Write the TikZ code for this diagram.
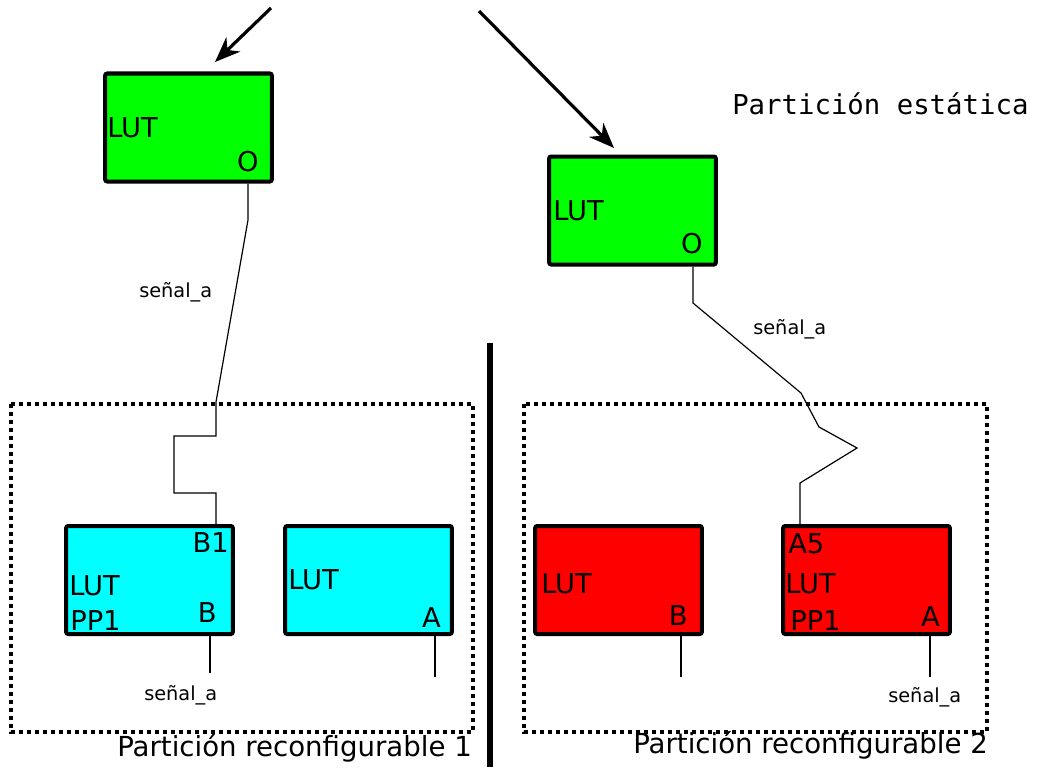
\documentclass[tikz,border=0pt]{standalone}
\usepackage{fontspec}
\setmainfont{DejaVu Sans}
\newfontfamily\monofont{DejaVu Sans Mono}
\usetikzlibrary{arrows.meta}

\tikzset{
  lutbox/.style={draw=black, line width=3pt, rounded corners=1.5pt,
    minimum width=125pt, minimum height=81pt, inner sep=0pt},
  pin/.style={inner sep=0pt, font=\fontsize{20.5}{24}\selectfont},
  sig/.style={inner sep=0pt, anchor=base west, font=\fontsize{14.5}{17}\selectfont},
  wire/.style={line width=0.9pt, black},
  region/.style={line width=3pt, dash pattern=on 3pt off 3pt},
  divider/.style={line width=4.5pt},
  feed/.style={line width=2.4pt, -{Stealth[length=19pt, width=15pt, inset=6pt]}},
  caption/.style={inner sep=0pt, anchor=base west, font=\fontsize{20.7}{24}\selectfont},
}
\definecolor{lutgreen}{RGB}{0,255,0}
\definecolor{lutcyan}{RGB}{0,255,255}
\definecolor{lutred}{RGB}{255,0,0}

\begin{document}
\begin{tikzpicture}[x=0.75pt, y=-0.75pt]
\useasboundingbox (0,0) rectangle (1037,767);

% reconfigurable partitions and the divider between them
\draw[region] (11,404) rectangle (473,732);
\draw[region] (524,404) rectangle (987,732);
\draw[divider] (490,343) -- (490,767);

% static-partition LUTs
\node[lutbox, fill=lutgreen] (g1) at (188.5,127.5) {};
\node[lutbox, fill=lutgreen] (g2) at (632.5,210.5) {};

% partition 1 LUTs
\node[lutbox, fill=lutcyan] (c1) at (149.5,580) {};
\node[lutbox, fill=lutcyan] (c2) at (368.5,580) {};

% partition 2 LUTs
\node[lutbox, fill=lutred] (r1) at (618.5,580) {};
\node[lutbox, fill=lutred] (r2) at (866.5,580) {};

% pin and name labels
\node[pin, anchor=base west] (g1lut) at (107,137) {LUT};
\node[pin, anchor=base east] (g1o) at (259,171) {O};
\node[pin, anchor=base west] (g2lut) at (553,220) {LUT};
\node[pin, anchor=base east] (g2o) at (703,253) {O};

\node[pin, anchor=base east] (c1b1) at (229,552) {B1};
\node[pin, anchor=base west] (c1lut) at (69,595) {LUT};
\node[pin, anchor=base west] (c1pp) at (70,630) {PP1};
\node[pin, anchor=base east] (c1b) at (217,622) {B};
\node[pin, anchor=base west] (c2lut) at (288,589) {LUT};
\node[pin, anchor=base east] (c2a) at (441,627) {A};

\node[pin, anchor=base west] (r1lut) at (541,593) {LUT};
\node[pin, anchor=base east] (r1b) at (688,625) {B};
\node[pin, anchor=base west] (r2a5) at (788,553) {A5};
\node[pin, anchor=base west] (r2lut) at (785,593) {LUT};
\node[pin, anchor=base west] (r2pp) at (790,630) {PP1};
\node[pin, anchor=base east] (r2a) at (940,626) {A};

% captions
\node[inner sep=0pt, anchor=base west, font=\monofont\fontsize{20.5}{24}\selectfont] (stat) at (732,114) {Partición estática};
\node[caption] (rp1) at (117,756) {Partición reconfigurable 1};
\node[caption] (rp2) at (633,753) {Partición reconfigurable 2};

% signal labels
\node[sig] (s1) at (139,297) {señal\_a};
\node[sig] (s2) at (753,334) {señal\_a};
\node[sig] (s3) at (144,700) {señal\_a};
\node[sig] (s4) at (888,702) {señal\_a};

% incoming arrows
\coordinate (inL) at (271,8);
\coordinate (tipL) at (215,62);
\coordinate (inR) at (479,11);
\coordinate (tipR) at (614,148);
\draw[feed] (inL) -- (tipL);
\draw[feed] (inR) -- (tipR);

% routing of señal_a
\draw[wire] (g1.south -| 248,0) -- (248,220) -- (216,402) -- (216,436)
  -- (174,436) -- (174,493) -- (216,493) -- (c1.north -| 216,0);
\draw[wire] (g2.south -| 693,0) -- (693,303) -- (801,393) -- (819,427)
  -- (857,448) -- (800,483) -- (r2.north -| 800,0);

% output stubs
\coordinate (c1end) at (210,673);
\coordinate (c2end) at (435,677);
\coordinate (r1end) at (681,677);
\coordinate (r2end) at (930,677);
\draw[wire] (c1.south -| c1end) -- (c1end);
\draw[wire] (c2.south -| c2end) -- (c2end);
\draw[wire] (r1.south -| r1end) -- (r1end);
\draw[wire] (r2.south -| r2end) -- (r2end);
\end{tikzpicture}
\end{document}
